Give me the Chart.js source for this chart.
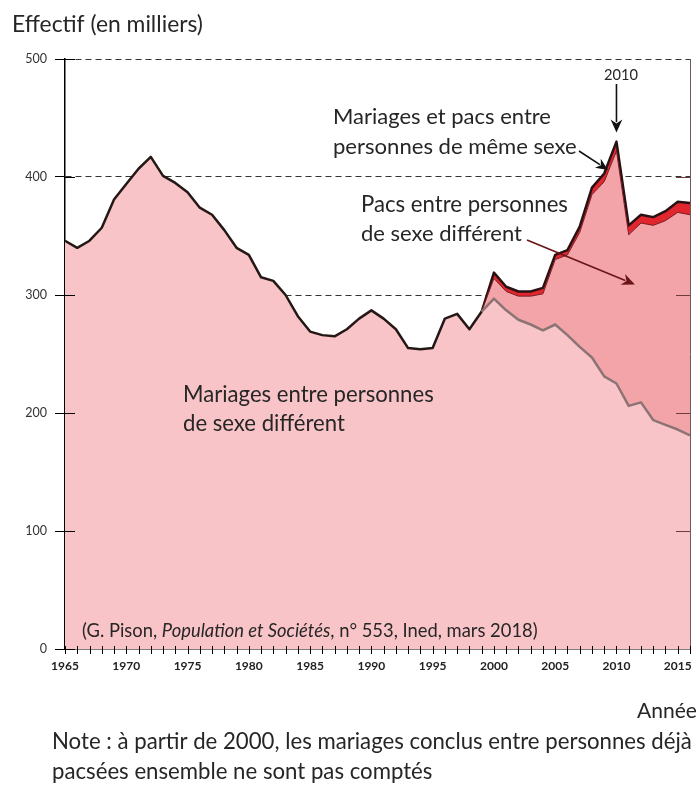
<!DOCTYPE html>
<html>
<head>
<meta charset="utf-8">
<script src="https://cdn.jsdelivr.net/npm/chart.js@4.4.1/dist/chart.umd.min.js"></script>
<style>
html, body { margin: 0; padding: 0; background: #fff; }
</style>
</head>
<body>
<canvas id="chart" width="700" height="787"></canvas>
<script>
// years 1965 - 2016
const years = [1965, 1966, 1967, 1968, 1969, 1970, 1971, 1972, 1973, 1974,
    1975, 1976, 1977, 1978, 1979, 1980, 1981, 1982, 1983, 1984,
    1985, 1986, 1987, 1988, 1989, 1990, 1991, 1992, 1993, 1994,
    1995, 1996, 1997, 1998, 1999, 2000, 2001, 2002, 2003, 2004,
    2005, 2006, 2007, 2008, 2009, 2010, 2011, 2012, 2013, 2014,
    2015, 2016];

// effectifs en milliers
const marriagesHetero = [346, 340, 346, 357, 381, 394, 407, 417, 401, 395,
    387, 374, 368, 355, 340, 334, 315, 312, 300, 282,
    269, 266, 265, 271, 280, 287, 280, 271, 255, 254,
    255, 280, 284, 271, 286, 297, 287, 279, 275, 270,
    275, 266, 256, 247, 231, 225, 206, 209, 194, 190,
    186, 181];

const pacsHetero = [null, null, null, null, null, null, null, null, null, null,
    null, null, null, null, null, null, null, null, null, null,
    null, null, null, null, null, null, null, null, null, null,
    null, null, null, null, 0, 17, 16, 20, 24, 31,
    55, 68, 97, 138, 165, 197, 145, 152, 165, 173,
    184, 187];

const sameSex = [null, null, null, null, null, null, null, null, null, null,
    null, null, null, null, null, null, null, null, null, null,
    null, null, null, null, null, null, null, null, null, null,
    null, null, null, null, 0, 5, 4, 4, 4, 5,
    4, 4, 5, 6, 7, 8, 8, 7, 7, 8,
    9, 10];

const yTicks = [0, 100, 200, 300, 400, 500];

const FONT = 'Lato, "Open Sans", sans-serif';
const TXT = '#262626';

// draws text, scaled to a given width when width is set
function fitText(ctx, parts, x, y, width, size) {
    let total = 0;
    parts.forEach(p => {
        ctx.font = (p.italic ? 'italic ' : '') + size + 'px ' + FONT;
        total += ctx.measureText(p.t).width;
    });
    const s = width ? size * width / total : size;
    let cx = x;
    parts.forEach(p => {
        ctx.font = (p.italic ? 'italic ' : '') + s + 'px ' + FONT;
        ctx.fillText(p.t, cx, y);
        cx += ctx.measureText(p.t).width;
    });
    return s;
}

function arrow(ctx, x1, y1, x2, y2, color, head) {
    const ang = Math.atan2(y2 - y1, x2 - x1);
    const c = Math.cos(ang), s = Math.sin(ang);
    ctx.strokeStyle = color;
    ctx.fillStyle = color;
    ctx.lineWidth = 1.6;
    ctx.beginPath();
    ctx.moveTo(x1, y1);
    ctx.lineTo(x2 - c * head * 0.8, y2 - s * head * 0.8);
    ctx.stroke();
    ctx.beginPath();
    ctx.moveTo(x2, y2);
    ctx.lineTo(x2 - head * c + head * 0.45 * s, y2 - head * s - head * 0.45 * c);
    ctx.lineTo(x2 - head * 0.7 * c, y2 - head * 0.7 * s);
    ctx.lineTo(x2 - head * c - head * 0.45 * s, y2 - head * s + head * 0.45 * c);
    ctx.closePath();
    ctx.fill();
}

const decor = {
    id: 'decor',
    afterDraw(chart) {
        const {ctx, chartArea: a, scales: {x, y}} = chart;
        ctx.save();
        ctx.lineWidth = 1;
        // ticks inside the left axis
        ctx.strokeStyle = '#000';
        yTicks.forEach(v => {
            const py = Math.round(y.getPixelForValue(v)) + 0.5;
            ctx.beginPath();
            ctx.moveTo(a.left, py);
            ctx.lineTo(a.left + 10, py);
            ctx.stroke();
        });
        // ticks inside the right axis
        ctx.strokeStyle = '#6e3b3e';
        yTicks.slice(1, 5).forEach(v => {
            const py = Math.round(y.getPixelForValue(v)) + 0.5;
            ctx.beginPath();
            ctx.moveTo(a.right - 14, py);
            ctx.lineTo(a.right, py);
            ctx.stroke();
        });
        // yearly ticks on x axis
        ctx.strokeStyle = '#000';
        years.forEach((yr, i) => {
            const px = Math.round(x.getPixelForValue(i)) + 0.5;
            ctx.beginPath();
            ctx.moveTo(px, a.bottom - 3);
            ctx.lineTo(px, a.bottom + 5);
            ctx.stroke();
        });

        // texts
        ctx.fillStyle = TXT;
        ctx.textBaseline = 'alphabetic';
        ctx.textAlign = 'left';
        fitText(ctx, [{t: 'Effectif (en milliers)'}], 12, 32, 191, 18);
        fitText(ctx, [{t: 'Mariages et pacs entre'}], 333, 124, 218, 19);
        fitText(ctx, [{t: 'personnes de même sexe'}], 333, 154, 244, 19);
        fitText(ctx, [{t: 'Pacs entre personnes'}], 361, 212, 207, 19);
        fitText(ctx, [{t: 'de sexe différent'}], 361, 241, 161, 19);
        fitText(ctx, [{t: 'Mariages entre personnes'}], 183, 402, 251, 19);
        fitText(ctx, [{t: 'de sexe différent'}], 183, 431, 162, 19);
        fitText(ctx, [{t: '(G. Pison, '}, {t: 'Population et Sociétés', italic: true},
            {t: ', n° 553, Ined, mars 2018)'}], 82, 637, 456, 15);
        fitText(ctx, [{t: '2010'}], 604, 80, 34, 13);
        fitText(ctx, [{t: 'Année'}], 637, 718, 60, 18);
        const ns = fitText(ctx, [{t: 'Note : à partir de 2000, les mariages conclus entre personnes déjà'}], 52, 749, 640, 18);
        fitText(ctx, [{t: 'pacsées ensemble ne sont pas comptés'}], 52, 779, null, ns);

        // arrows
        const i2010 = years.indexOf(2010);
        const px2010 = x.getPixelForValue(i2010);
        const top2010 = y.getPixelForValue(marriagesHetero[i2010] + pacsHetero[i2010] + sameSex[i2010]);
        arrow(ctx, px2010, 84, px2010, top2010 - 9, '#111', 13);
        arrow(ctx, 579, 151, x.getPixelForValue(44.3), y.getPixelForValue(406), '#111', 12);
        arrow(ctx, 527, 240, x.getPixelForValue(46.5), y.getPixelForValue(309), '#6b1418', 13);
        ctx.restore();
    }
};

const ctx = document.getElementById('chart').getContext('2d');
new Chart(ctx, {
    type: 'line',
    data: {
        labels: years,
        datasets: [
            {
                // outline of the marriages area: black, grey once pacs exist
                label: 'contour',
                data: marriagesHetero,
                stack: 'outline',
                fill: false,
                borderWidth: 2.5,
                borderColor: '#231815',
                segment: {
                    borderColor: c => c.p0DataIndex >= 34 ? '#8c7375' : '#231815'
                }
            },
            {
                label: 'Mariages entre personnes de sexe différent',
                data: marriagesHetero,
                stack: 'main',
                fill: 'origin',
                backgroundColor: '#f8c4c7',
                borderWidth: 0
            },
            {
                label: 'Pacs entre personnes de sexe différent',
                data: pacsHetero,
                stack: 'main',
                fill: '-1',
                backgroundColor: '#f3a4a9',
                borderColor: '#7a1a1f',
                borderWidth: 1
            },
            {
                label: 'Mariages et pacs entre personnes de même sexe',
                data: sameSex,
                stack: 'main',
                fill: '-1',
                backgroundColor: '#e1262d',
                borderColor: '#2a1214',
                borderWidth: 2.5
            }
        ]
    },
    options: {
        responsive: false,
        animation: false,
        devicePixelRatio: 1,
        layout: {padding: {top: 59, left: 0, right: 0, bottom: 0}},
        elements: {
            line: {tension: 0, borderJoinStyle: 'round'},
            point: {radius: 0, hoverRadius: 0}
        },
        plugins: {
            legend: {display: false},
            tooltip: {enabled: false}
        },
        scales: {
            x: {
                offset: false,
                grid: {display: false, drawTicks: false},
                border: {color: '#000', width: 1.5},
                ticks: {
                    autoSkip: false,
                    maxRotation: 0,
                    padding: 10,
                    color: '#222',
                    font: {family: FONT, weight: 'bold', size: 12},
                    callback: (v, i) => years[i] % 5 === 0 ? String(years[i]) : ''
                },
                afterFit: s => { s.height = 138; }
            },
            y: {
                stacked: true,
                min: 0,
                max: 500,
                ticks: {
                    stepSize: 100,
                    padding: 8,
                    color: '#333',
                    font: {family: FONT, size: 12.5}
                },
                grid: {
                    color: c => c.tick && c.tick.value >= 300 ? '#333' : 'rgba(0,0,0,0)',
                    tickColor: '#000',
                    tickLength: 10,
                    lineWidth: 1
                },
                border: {color: '#000', width: 1.5, dash: [6, 4]},
                afterFit: s => { s.width = 65; }
            },
            y2: {
                position: 'right',
                min: 0,
                max: 500,
                grid: {display: false},
                ticks: {display: false},
                border: {color: '#6e5a5c', width: 1},
                afterFit: s => { s.width = 4; }
            }
        }
    },
    plugins: [decor]
});
</script>
</body>
</html>
